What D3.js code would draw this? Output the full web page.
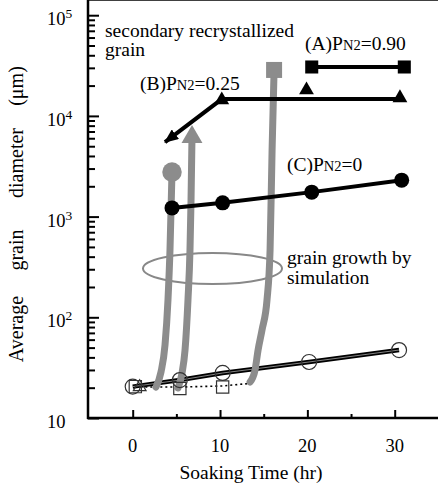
<!DOCTYPE html>
<html>
<head>
<meta charset="utf-8">
<script src="https://cdn.jsdelivr.net/npm/d3@7"></script>
<style>
body { margin: 0; background: #fff; }
</style>
</head>
<body>
<svg id="svg" width="438" height="488" font-family="'Liberation Serif', 'Times New Roman', Times, serif"></svg>
<script>
// values: time in hr, diameter in um
var xTicks = [0, 10, 20, 30];
var xMinorTicks = [5, 15, 25];
var yExps = [1, 2, 3, 4, 5];

// (A) PN2=0.90
var seriesA = [{t: 20.5, v: 30600}, {t: 31.1, v: 30600}];
// (B) PN2=0.25
var seriesB = [{t: 10.2, v: 14400}, {t: 19.9, v: 18100}, {t: 30.6, v: 15100}];
var lineB = [{t: 30.8, v: 14700}, {t: 10.2, v: 14700}, {t: 3.7, v: 5500}];
// (C) PN2=0
var seriesC = [{t: 4.5, v: 1220}, {t: 10.3, v: 1370}, {t: 20.5, v: 1750}, {t: 30.8, v: 2300}];

// grain growth by simulation (open symbols)
var openCircles = [{t: 0, v: 20.5}, {t: 5.4, v: 23.8}, {t: 10.3, v: 28}, {t: 20.2, v: 36}, {t: 30.5, v: 47.3}];
var openSquares = [{t: 0.3, v: 20.5}, {t: 5.4, v: 19.6}, {t: 10.3, v: 20.3}];
var openTriangles = [{t: 0.8, v: 20.3}];
var dottedLine = [{t: 0.3, v: 20.3}, {t: 5.4, v: 20.3}, {t: 10.3, v: 20.8}, {t: 13.3, v: 22}];

// secondary recrystallization (gray)
var simCircle = [{t: 2.67, v: 20.3}, {t: 3.24, v: 28.6}, {t: 3.7, v: 53}, {t: 4.04, v: 149}, {t: 4.27, v: 466}, {t: 4.5, v: 2770}];
var simTriangle = [{t: 5.19, v: 19.9}, {t: 5.65, v: 28}, {t: 5.99, v: 47}, {t: 6.33, v: 149}, {t: 6.56, v: 466}, {t: 6.68, v: 1460}, {t: 6.79, v: 6170}];
var simSquare = [{t: 13.44, v: 22.8}, {t: 14.01, v: 30}, {t: 14.35, v: 47}, {t: 14.81, v: 75}, {t: 15.38, v: 149}, {t: 15.73, v: 466}, {t: 15.96, v: 4580}, {t: 16.19, v: 28600}];

var svg = d3.select("svg"),
        left = 88, right = 438, top = 10, bottom = 418,
        black = "#000", gray = "#8c8c8c";

var x = d3.scaleLinear()
        .domain([0, 30])
        .range([132.7, 394.7]);

var y = d3.scaleLog()
        .domain([10, 1e5])
        .range([bottom, 15.2]);

var line = d3.line()
        .x(function (d) { return x(d.t); })
        .y(function (d) { return y(d.v); });

var curve = d3.line()
        .curve(d3.curveMonotoneX)
        .x(function (d) { return x(d.t); })
        .y(function (d) { return y(d.v); });

// frame
svg.append("line").attr("x1", left).attr("x2", right).attr("y1", top).attr("y2", top)
        .attr("stroke", black).attr("stroke-width", 1.5);

// y axis ticks (inside)
var majorY = yExps.map(function (e) { return Math.pow(10, e); });
var minorY = [];
yExps.slice(0, 4).forEach(function (e) {
    for (var k = 2; k <= 9; k++) minorY.push(k * Math.pow(10, e));
});

var gy = svg.append("g").attr("transform", "translate(" + left + ",0)");
gy.append("g").call(d3.axisRight(y).tickValues(majorY).tickSize(11).tickFormat(""));
gy.append("g").call(d3.axisRight(y).tickValues(minorY).tickSize(7).tickFormat(""));
gy.selectAll(".domain").remove();
gy.selectAll(".tick line").attr("stroke", black).attr("stroke-width", 2);

// x axis ticks (inside)
var gx = svg.append("g").attr("transform", "translate(0," + bottom + ")");
gx.append("g").call(d3.axisBottom(x).tickValues(xTicks).tickSize(-8).tickFormat(""));
gx.append("g").call(d3.axisBottom(x).tickValues(xMinorTicks).tickSize(-4).tickFormat(""));
gx.selectAll(".domain").remove();
gx.selectAll(".tick line").attr("stroke", black).attr("stroke-width", 2);

svg.append("line").attr("x1", left).attr("x2", left).attr("y1", top - 1).attr("y2", bottom + 1)
        .attr("stroke", black).attr("stroke-width", 2.5);
svg.append("line").attr("x1", left - 1).attr("x2", right).attr("y1", bottom).attr("y2", bottom)
        .attr("stroke", black).attr("stroke-width", 2.5);

// tick labels
svg.selectAll(".xlab").data(xTicks).enter().append("text")
        .attr("class", "xlab")
        .attr("x", function (d) { return x(d); })
        .attr("y", 452)
        .attr("text-anchor", "middle")
        .attr("font-size", 18.5)
        .text(function (d) { return d; });

var ylab = svg.selectAll(".ylab").data(yExps).enter().append("text")
        .attr("class", "ylab")
        .attr("x", 47)
        .attr("y", function (d) { return y(Math.pow(10, d)) + 10; })
        .attr("font-size", 18.5);
ylab.append("tspan").text("10");
ylab.filter(function (d) { return d > 1; }).append("tspan")
        .attr("dy", -7)
        .attr("font-size", 13.5)
        .text(function (d) { return d; });

// axis titles
svg.append("text")
        .attr("x", 251).attr("y", 479)
        .attr("text-anchor", "middle")
        .attr("font-size", 19.5)
        .text("Soaking Time (hr)");

var yTitle = [["Average", 329], ["grain", 250], ["diameter", 163], ["(\u03bcm)", 86]];
svg.selectAll(".ytitle").data(yTitle).enter().append("text")
        .attr("class", "ytitle")
        .attr("transform", function (d) { return "translate(23," + d[1] + ") rotate(-90)"; })
        .attr("text-anchor", "middle")
        .attr("font-size", 20)
        .text(function (d) { return d[0]; });

// simulation ellipse
svg.append("ellipse")
        .attr("cx", 212.5).attr("cy", 268.5).attr("rx", 69.5).attr("ry", 15.5)
        .attr("fill", "none").attr("stroke", "#888").attr("stroke-width", 2);

// lower simulation lines
svg.append("path").datum(dottedLine)
        .attr("d", line).attr("fill", "none")
        .attr("stroke", black).attr("stroke-width", 1.6).attr("stroke-dasharray", "2,3");
svg.append("path").datum(openCircles)
        .attr("d", line).attr("fill", "none")
        .attr("stroke", black).attr("stroke-width", 4.5);
svg.append("path").datum(openCircles)
        .attr("d", line).attr("fill", "none")
        .attr("stroke", "#bbb").attr("stroke-width", 0.7);

// gray recrystallization curves
[simCircle, simTriangle, simSquare].forEach(function (s) {
    svg.append("path").datum(s)
            .attr("d", curve).attr("fill", "none")
            .attr("stroke", gray).attr("stroke-width", 7)
            .attr("stroke-linecap", "round");
});

function sym(type, size) {
    return d3.symbol().type(type).size(size)();
}
function tr(d) {
    return "translate(" + x(d.t) + "," + y(d.v) + ")";
}

// open markers
svg.selectAll(".oc").data(openCircles).enter().append("circle")
        .attr("cx", function (d) { return x(d.t); })
        .attr("cy", function (d) { return y(d.v); })
        .attr("r", 7.5)
        .attr("fill", "none")
        .attr("stroke", "#333").attr("stroke-width", 1.2);
svg.selectAll(".os").data(openSquares).enter().append("path")
        .attr("transform", tr).attr("d", sym(d3.symbolSquare, 150))
        .attr("fill", "none").attr("stroke", "#333").attr("stroke-width", 1.2);
svg.selectAll(".ot").data(openTriangles).enter().append("path")
        .attr("transform", tr).attr("d", sym(d3.symbolTriangle, 70))
        .attr("fill", "none").attr("stroke", "#333").attr("stroke-width", 1.2);

// gray top markers
svg.append("path").datum(simCircle[simCircle.length - 1])
        .attr("transform", tr).attr("d", sym(d3.symbolCircle, 300)).attr("fill", gray);
svg.append("path").datum(simTriangle[simTriangle.length - 1])
        .attr("transform", tr).attr("d", sym(d3.symbolTriangle, 190)).attr("fill", gray);
svg.append("path").datum(simSquare[simSquare.length - 1])
        .attr("transform", tr).attr("d", sym(d3.symbolSquare, 256)).attr("fill", gray);

// black series
svg.append("defs").append("marker")
        .attr("id", "arrow")
        .attr("viewBox", "0 -6 14 12")
        .attr("refX", 13).attr("refY", 0)
        .attr("markerUnits", "userSpaceOnUse")
        .attr("markerWidth", 14).attr("markerHeight", 12)
        .attr("orient", "auto")
        .append("path").attr("d", "M0,-6L14,0L0,6Z").attr("fill", black);

svg.append("path").datum(lineB)
        .attr("d", line).attr("fill", "none")
        .attr("stroke", black).attr("stroke-width", 4)
        .attr("marker-end", "url(#arrow)");
svg.append("path").datum(seriesA)
        .attr("d", line).attr("fill", "none")
        .attr("stroke", black).attr("stroke-width", 4);
svg.append("path").datum(seriesC)
        .attr("d", line).attr("fill", "none")
        .attr("stroke", black).attr("stroke-width", 4);

svg.selectAll(".ma").data(seriesA).enter().append("path")
        .attr("transform", tr).attr("d", sym(d3.symbolSquare, 170)).attr("fill", black);
svg.selectAll(".mb").data(seriesB).enter().append("path")
        .attr("transform", tr).attr("d", sym(d3.symbolTriangle, 95)).attr("fill", black);
svg.selectAll(".mc").data(seriesC).enter().append("circle")
        .attr("cx", function (d) { return x(d.t); })
        .attr("cy", function (d) { return y(d.v); })
        .attr("r", 7.5).attr("fill", black);

// annotations
function pLabel(px, py, tag, val) {
    var t = svg.append("text").attr("x", px).attr("y", py).attr("font-size", 19.5);
    t.append("tspan").text("(" + tag + ")P");
    t.append("tspan").attr("font-size", 14.5).text("N2");
    t.append("tspan").text("=" + val);
}
pLabel(305, 50, "A", "0.90");
pLabel(140, 90, "B", "0.25");
pLabel(287, 171, "C", "0");

svg.append("text").attr("x", 105).attr("y", 37).attr("font-size", 19.5)
        .text("secondary recrystallized");
svg.append("text").attr("x", 105).attr("y", 56).attr("font-size", 19.5)
        .text("grain");
svg.append("text").attr("x", 287).attr("y", 264).attr("font-size", 19.5)
        .text("grain growth by");
svg.append("text").attr("x", 287).attr("y", 284).attr("font-size", 19.5)
        .text("simulation");
</script>
</body>
</html>
